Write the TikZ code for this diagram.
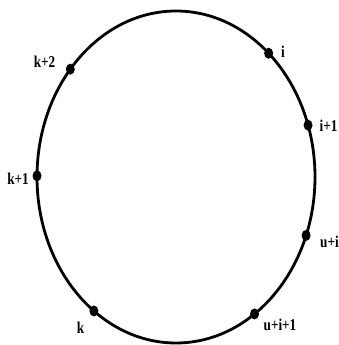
\documentclass[tikz,border=0pt]{standalone}
\usepackage{fontspec}
\setmainfont{Liberation Serif}
\usetikzlibrary{calc,shapes.geometric}
\begin{document}
\begin{tikzpicture}[x=1pt,y=-1pt,
  dot/.style={ellipse,fill=black,inner sep=0pt,minimum width=9pt,minimum height=11pt},
  lbl/.style={font=\fontsize{16.5}{18}\selectfont\bfseries,inner sep=0pt,anchor=base,xscale=0.8}]
\useasboundingbox (0,0) rectangle (339,345);
\coordinate (c) at (176,177);
\draw[line width=2.8pt] (c) ellipse [x radius=139, y radius=166];
\node[dot] (pi)   at ($(c)+(-48.2:139 and 166)$) {};
\node[dot] (pk2)  at ($(c)+(-139.5:139 and 166)$) {};
\node[dot] (pi1)  at ($(c)+(-18.2:139 and 166)$) {};
\node[dot] (pk1)  at ($(c)+(180.4:139 and 166)$) {};
\node[dot] (pui)  at ($(c)+(20.6:139 and 166)$) {};
\node[dot] (pk)   at ($(c)+(126.2:139 and 166)$) {};
\node[dot] (pui1) at ($(c)+(55.6:139 and 166)$) {};
\node[lbl] (li)   at (283,57) {i};
\node[lbl] (lk2)  at (44.5,67) {k+2};
\node[lbl] (li1)  at (328.5,131) {i+1};
\node[lbl] (lk1)  at (18,184) {k+1};
\node[lbl] (lui)  at (329.5,247) {u+i};
\node[lbl] (lk)   at (80.5,333) {k};
\node[lbl] (lui1) at (280,330) {u+i+1};
\end{tikzpicture}
\end{document}
